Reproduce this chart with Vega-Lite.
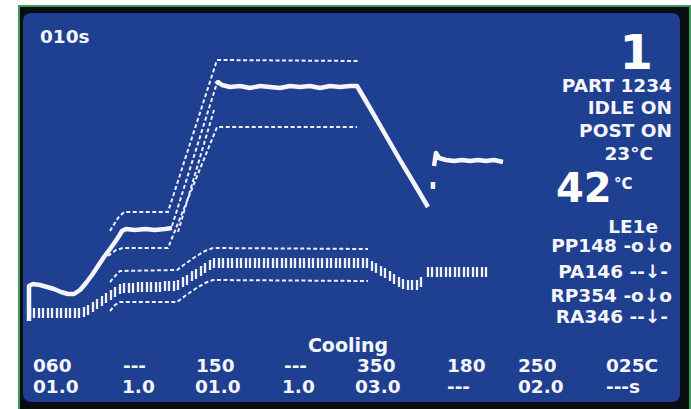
{
  "$schema": "https://vega.github.io/schema/vega-lite/v6.json",
  "width": 691,
  "height": 409,
  "padding": 0,
  "autosize": {"type": "fit", "contains": "padding"},
  "background": "#ffffff",
  "config": {"view": {"stroke": null}, "axis": {"disable": true}},
  "datasets": {
    "frame": [
      {"name": "green", "x": 18, "x2": 691, "y": 5, "y2": 409},
      {"name": "black", "x": 20, "x2": 689, "y": 7, "y2": 409},
      {"name": "blue", "x": 23, "x2": 680, "y": 13, "y2": 402}
    ],
    "traces": [
      {"s": "mainA", "i": 0, "x": 29, "y": 321},
      {"s": "mainA", "i": 1, "x": 29, "y": 286},
      {"s": "mainA", "i": 2, "x": 33, "y": 284},
      {"s": "mainA", "i": 3, "x": 40, "y": 285},
      {"s": "mainA", "i": 4, "x": 47, "y": 287},
      {"s": "mainA", "i": 5, "x": 54, "y": 289},
      {"s": "mainA", "i": 6, "x": 61, "y": 292},
      {"s": "mainA", "i": 7, "x": 68, "y": 294},
      {"s": "mainA", "i": 8, "x": 74, "y": 294},
      {"s": "mainA", "i": 9, "x": 80, "y": 290},
      {"s": "mainA", "i": 10, "x": 86, "y": 283},
      {"s": "mainA", "i": 11, "x": 92, "y": 275},
      {"s": "mainA", "i": 12, "x": 98, "y": 266},
      {"s": "mainA", "i": 13, "x": 104, "y": 257},
      {"s": "mainA", "i": 14, "x": 110, "y": 249},
      {"s": "mainA", "i": 15, "x": 115, "y": 242},
      {"s": "mainA", "i": 16, "x": 119, "y": 236},
      {"s": "mainA", "i": 17, "x": 122, "y": 231},
      {"s": "mainA", "i": 18, "x": 126, "y": 229},
      {"s": "mainA", "i": 19, "x": 135, "y": 230},
      {"s": "mainA", "i": 20, "x": 145, "y": 229},
      {"s": "mainA", "i": 21, "x": 155, "y": 230},
      {"s": "mainA", "i": 22, "x": 165, "y": 229},
      {"s": "mainA", "i": 23, "x": 172, "y": 228},
      {"s": "mainB", "i": 0, "x": 216, "y": 84},
      {"s": "mainB", "i": 1, "x": 218, "y": 82},
      {"s": "mainB", "i": 2, "x": 222, "y": 85},
      {"s": "mainB", "i": 3, "x": 230, "y": 87},
      {"s": "mainB", "i": 4, "x": 240, "y": 86},
      {"s": "mainB", "i": 5, "x": 250, "y": 88},
      {"s": "mainB", "i": 6, "x": 260, "y": 86},
      {"s": "mainB", "i": 7, "x": 270, "y": 87},
      {"s": "mainB", "i": 8, "x": 280, "y": 88},
      {"s": "mainB", "i": 9, "x": 290, "y": 86},
      {"s": "mainB", "i": 10, "x": 300, "y": 87},
      {"s": "mainB", "i": 11, "x": 310, "y": 86},
      {"s": "mainB", "i": 12, "x": 320, "y": 88},
      {"s": "mainB", "i": 13, "x": 330, "y": 86},
      {"s": "mainB", "i": 14, "x": 340, "y": 87},
      {"s": "mainB", "i": 15, "x": 350, "y": 86},
      {"s": "mainB", "i": 16, "x": 357, "y": 86},
      {"s": "mainB", "i": 17, "x": 370, "y": 108},
      {"s": "mainB", "i": 18, "x": 385, "y": 134},
      {"s": "mainB", "i": 19, "x": 400, "y": 160},
      {"s": "mainB", "i": 20, "x": 415, "y": 185},
      {"s": "mainB", "i": 21, "x": 428, "y": 207},
      {"s": "mainC", "i": 0, "x": 434, "y": 166},
      {"s": "mainC", "i": 1, "x": 436, "y": 153},
      {"s": "mainC", "i": 2, "x": 439, "y": 158},
      {"s": "mainC", "i": 3, "x": 446, "y": 160},
      {"s": "mainC", "i": 4, "x": 454, "y": 161},
      {"s": "mainC", "i": 5, "x": 462, "y": 160},
      {"s": "mainC", "i": 6, "x": 470, "y": 161},
      {"s": "mainC", "i": 7, "x": 478, "y": 160},
      {"s": "mainC", "i": 8, "x": 486, "y": 161},
      {"s": "mainC", "i": 9, "x": 494, "y": 160},
      {"s": "mainC", "i": 10, "x": 503, "y": 162},
      {"s": "tick", "i": 0, "x": 433, "y": 182},
      {"s": "tick", "i": 1, "x": 433, "y": 189}
    ],
    "dashed": [
      {"s": "upA", "i": 0, "x": 110, "y": 231},
      {"s": "upA", "i": 1, "x": 118, "y": 218},
      {"s": "upA", "i": 2, "x": 124, "y": 212},
      {"s": "upA", "i": 3, "x": 168, "y": 212},
      {"s": "upA", "i": 4, "x": 217, "y": 60},
      {"s": "upA", "i": 5, "x": 358, "y": 61},
      {"s": "loA", "i": 0, "x": 108, "y": 256},
      {"s": "loA", "i": 1, "x": 116, "y": 250},
      {"s": "loA", "i": 2, "x": 123, "y": 248},
      {"s": "loA", "i": 3, "x": 168, "y": 248},
      {"s": "loA", "i": 4, "x": 217, "y": 127},
      {"s": "loA", "i": 5, "x": 357, "y": 127},
      {"s": "rise", "i": 0, "x": 172, "y": 226},
      {"s": "rise", "i": 1, "x": 216, "y": 86},
      {"s": "rise2", "i": 0, "x": 178, "y": 232},
      {"s": "rise2", "i": 1, "x": 214, "y": 110},
      {"s": "upB", "i": 0, "x": 110, "y": 282},
      {"s": "upB", "i": 1, "x": 116, "y": 275},
      {"s": "upB", "i": 2, "x": 120, "y": 271},
      {"s": "upB", "i": 3, "x": 177, "y": 270},
      {"s": "upB", "i": 4, "x": 185, "y": 264},
      {"s": "upB", "i": 5, "x": 195, "y": 257},
      {"s": "upB", "i": 6, "x": 205, "y": 251},
      {"s": "upB", "i": 7, "x": 213, "y": 248},
      {"s": "upB", "i": 8, "x": 368, "y": 249},
      {"s": "loB", "i": 0, "x": 110, "y": 311},
      {"s": "loB", "i": 1, "x": 115, "y": 305},
      {"s": "loB", "i": 2, "x": 120, "y": 302},
      {"s": "loB", "i": 3, "x": 177, "y": 302},
      {"s": "loB", "i": 4, "x": 185, "y": 296},
      {"s": "loB", "i": 5, "x": 195, "y": 289},
      {"s": "loB", "i": 6, "x": 205, "y": 283},
      {"s": "loB", "i": 7, "x": 213, "y": 280},
      {"s": "loB", "i": 8, "x": 368, "y": 281}
    ],
    "bars": [
      {"x": 30, "y": 313}, {"x": 34, "y": 313}, {"x": 39, "y": 313}, {"x": 43, "y": 313},
      {"x": 48, "y": 313}, {"x": 52, "y": 313}, {"x": 57, "y": 313}, {"x": 61, "y": 313},
      {"x": 66, "y": 313}, {"x": 70, "y": 313}, {"x": 75, "y": 313}, {"x": 79, "y": 313},
      {"x": 84, "y": 312}, {"x": 88, "y": 310}, {"x": 93, "y": 307}, {"x": 97, "y": 304},
      {"x": 102, "y": 301}, {"x": 106, "y": 298}, {"x": 111, "y": 295}, {"x": 115, "y": 292},
      {"x": 120, "y": 289}, {"x": 124, "y": 288}, {"x": 129, "y": 288}, {"x": 133, "y": 288},
      {"x": 138, "y": 287}, {"x": 142, "y": 287}, {"x": 147, "y": 287}, {"x": 151, "y": 287},
      {"x": 156, "y": 287}, {"x": 160, "y": 287}, {"x": 165, "y": 286}, {"x": 169, "y": 286},
      {"x": 174, "y": 286}, {"x": 178, "y": 285}, {"x": 183, "y": 282}, {"x": 187, "y": 280},
      {"x": 192, "y": 276}, {"x": 196, "y": 274}, {"x": 201, "y": 271}, {"x": 205, "y": 268},
      {"x": 210, "y": 265}, {"x": 214, "y": 263}, {"x": 219, "y": 263}, {"x": 223, "y": 263},
      {"x": 228, "y": 263}, {"x": 232, "y": 263}, {"x": 237, "y": 263}, {"x": 241, "y": 263},
      {"x": 246, "y": 263}, {"x": 250, "y": 263}, {"x": 255, "y": 263}, {"x": 259, "y": 263},
      {"x": 264, "y": 263}, {"x": 268, "y": 263}, {"x": 273, "y": 263}, {"x": 277, "y": 263},
      {"x": 282, "y": 263}, {"x": 286, "y": 263}, {"x": 291, "y": 263}, {"x": 295, "y": 263},
      {"x": 300, "y": 263}, {"x": 304, "y": 263}, {"x": 309, "y": 263}, {"x": 313, "y": 263},
      {"x": 318, "y": 263}, {"x": 322, "y": 263}, {"x": 327, "y": 263}, {"x": 331, "y": 263},
      {"x": 336, "y": 263}, {"x": 340, "y": 263}, {"x": 345, "y": 263}, {"x": 349, "y": 263},
      {"x": 354, "y": 263}, {"x": 358, "y": 263}, {"x": 363, "y": 263}, {"x": 367, "y": 263},
      {"x": 372, "y": 266}, {"x": 376, "y": 268}, {"x": 381, "y": 271}, {"x": 385, "y": 273},
      {"x": 390, "y": 276}, {"x": 394, "y": 279}, {"x": 399, "y": 282}, {"x": 403, "y": 284},
      {"x": 408, "y": 285}, {"x": 412, "y": 285}, {"x": 417, "y": 285}, {"x": 421, "y": 282},
      {"x": 428, "y": 272}, {"x": 432, "y": 272}, {"x": 437, "y": 272}, {"x": 441, "y": 272},
      {"x": 446, "y": 272}, {"x": 450, "y": 272}, {"x": 455, "y": 272}, {"x": 459, "y": 272},
      {"x": 464, "y": 272}, {"x": 468, "y": 272}, {"x": 473, "y": 272}, {"x": 477, "y": 272},
      {"x": 482, "y": 272}, {"x": 486, "y": 272}
    ],
    "labels": [
      {"t": "010s", "x": 40, "y": 43, "g": "L"},
      {"t": "PART 1234", "x": 672, "y": 92, "g": "R"},
      {"t": "IDLE ON", "x": 672, "y": 114, "g": "R"},
      {"t": "POST ON", "x": 672, "y": 137, "g": "R"},
      {"t": "23°C", "x": 653, "y": 160, "g": "R"},
      {"t": "LE1e", "x": 658, "y": 233, "g": "R"},
      {"t": "PP148 -o↓o", "x": 672, "y": 252, "g": "R"},
      {"t": "PA146 --↓-", "x": 668, "y": 278, "g": "R"},
      {"t": "RP354 -o↓o", "x": 672, "y": 302, "g": "R"},
      {"t": "RA346 --↓-", "x": 668, "y": 323, "g": "R"},
      {"t": "Cooling", "x": 348, "y": 352, "g": "C"},
      {"t": "060", "x": 33, "y": 372, "g": "L"},
      {"t": "---", "x": 123, "y": 372, "g": "L"},
      {"t": "150", "x": 196, "y": 372, "g": "L"},
      {"t": "---", "x": 284, "y": 372, "g": "L"},
      {"t": "350", "x": 357, "y": 372, "g": "L"},
      {"t": "180", "x": 447, "y": 372, "g": "L"},
      {"t": "250", "x": 518, "y": 372, "g": "L"},
      {"t": "025C", "x": 606, "y": 372, "g": "L"},
      {"t": "01.0", "x": 33, "y": 393, "g": "L"},
      {"t": "1.0", "x": 122, "y": 393, "g": "L"},
      {"t": "01.0", "x": 195, "y": 393, "g": "L"},
      {"t": "1.0", "x": 282, "y": 393, "g": "L"},
      {"t": "03.0", "x": 355, "y": 393, "g": "L"},
      {"t": "---", "x": 447, "y": 393, "g": "L"},
      {"t": "02.0", "x": 518, "y": 393, "g": "L"},
      {"t": "---s", "x": 606, "y": 393, "g": "L"},
      {"t": "1", "x": 653, "y": 69, "g": "one"},
      {"t": "42", "x": 556, "y": 202, "g": "big"},
      {"t": "°C", "x": 614, "y": 189, "g": "deg"}
    ]
  },
  "layer": [
    {
      "data": {"name": "frame"},
      "transform": [{"filter": "datum.name === 'green'"}],
      "mark": {"type": "rect", "fill": "#3c9a5f"},
      "encoding": {
        "x": {"field": "x", "type": "quantitative", "scale": {"domain": [0, 691], "nice": false, "zero": false}},
        "x2": {"field": "x2"},
        "y": {"field": "y", "type": "quantitative", "scale": {"domain": [0, 409], "nice": false, "zero": false, "reverse": true}},
        "y2": {"field": "y2"}
      }
    },
    {
      "data": {"name": "frame"},
      "transform": [{"filter": "datum.name === 'black'"}],
      "mark": {"type": "rect", "fill": "#0b0c10"},
      "encoding": {
        "x": {"field": "x", "type": "quantitative"},
        "x2": {"field": "x2"},
        "y": {"field": "y", "type": "quantitative"},
        "y2": {"field": "y2"}
      }
    },
    {
      "data": {"name": "frame"},
      "transform": [{"filter": "datum.name === 'blue'"}],
      "mark": {"type": "rect", "fill": "#1f3f91", "cornerRadius": 8},
      "encoding": {
        "x": {"field": "x", "type": "quantitative"},
        "x2": {"field": "x2"},
        "y": {"field": "y", "type": "quantitative"},
        "y2": {"field": "y2"}
      }
    },
    {
      "data": {"name": "dashed"},
      "mark": {"type": "line", "color": "#eef1f8", "strokeWidth": 2, "strokeDash": [4, 2.5], "strokeCap": "butt"},
      "encoding": {
        "x": {"field": "x", "type": "quantitative"},
        "y": {"field": "y", "type": "quantitative"},
        "detail": {"field": "s", "type": "nominal"},
        "order": {"field": "i", "type": "quantitative"}
      }
    },
    {
      "data": {"name": "bars"},
      "mark": {"type": "tick", "orient": "vertical", "color": "#eef1f8", "size": 10, "thickness": 2.3, "opacity": 1},
      "encoding": {
        "x": {"field": "x", "type": "quantitative"},
        "y": {"field": "y", "type": "quantitative"}
      }
    },
    {
      "data": {"name": "traces"},
      "mark": {"type": "line", "color": "#f4f6fb", "strokeWidth": 4.5, "strokeJoin": "round"},
      "encoding": {
        "x": {"field": "x", "type": "quantitative"},
        "y": {"field": "y", "type": "quantitative"},
        "detail": {"field": "s", "type": "nominal"},
        "order": {"field": "i", "type": "quantitative"}
      }
    },
    {
      "data": {"name": "labels"},
      "transform": [{"filter": "datum.g === 'L'"}],
      "mark": {"type": "text", "align": "left", "baseline": "alphabetic", "font": "DejaVu Sans", "fontWeight": "bold", "fontSize": 18.5, "color": "#f4f6fb"},
      "encoding": {
        "x": {"field": "x", "type": "quantitative"},
        "y": {"field": "y", "type": "quantitative"},
        "text": {"field": "t"}
      }
    },
    {
      "data": {"name": "labels"},
      "transform": [{"filter": "datum.g === 'R'"}],
      "mark": {"type": "text", "align": "right", "baseline": "alphabetic", "font": "DejaVu Sans", "fontWeight": "bold", "fontSize": 18.5, "color": "#f4f6fb"},
      "encoding": {
        "x": {"field": "x", "type": "quantitative"},
        "y": {"field": "y", "type": "quantitative"},
        "text": {"field": "t"}
      }
    },
    {
      "data": {"name": "labels"},
      "transform": [{"filter": "datum.g === 'C'"}],
      "mark": {"type": "text", "align": "center", "baseline": "alphabetic", "font": "DejaVu Sans", "fontWeight": "bold", "fontSize": 19, "color": "#f4f6fb"},
      "encoding": {
        "x": {"field": "x", "type": "quantitative"},
        "y": {"field": "y", "type": "quantitative"},
        "text": {"field": "t"}
      }
    },
    {
      "data": {"name": "labels"},
      "transform": [{"filter": "datum.g === 'one'"}],
      "mark": {"type": "text", "align": "right", "baseline": "alphabetic", "font": "DejaVu Sans", "fontWeight": "bold", "fontSize": 48, "color": "#ffffff"},
      "encoding": {
        "x": {"field": "x", "type": "quantitative"},
        "y": {"field": "y", "type": "quantitative"},
        "text": {"field": "t"}
      }
    },
    {
      "data": {"name": "labels"},
      "transform": [{"filter": "datum.g === 'big'"}],
      "mark": {"type": "text", "align": "left", "baseline": "alphabetic", "font": "DejaVu Sans", "fontWeight": "bold", "fontSize": 40, "color": "#ffffff"},
      "encoding": {
        "x": {"field": "x", "type": "quantitative"},
        "y": {"field": "y", "type": "quantitative"},
        "text": {"field": "t"}
      }
    },
    {
      "data": {"name": "labels"},
      "transform": [{"filter": "datum.g === 'deg'"}],
      "mark": {"type": "text", "align": "left", "baseline": "alphabetic", "font": "DejaVu Sans", "fontWeight": "bold", "fontSize": 15, "color": "#ffffff"},
      "encoding": {
        "x": {"field": "x", "type": "quantitative"},
        "y": {"field": "y", "type": "quantitative"},
        "text": {"field": "t"}
      }
    }
  ]
}
